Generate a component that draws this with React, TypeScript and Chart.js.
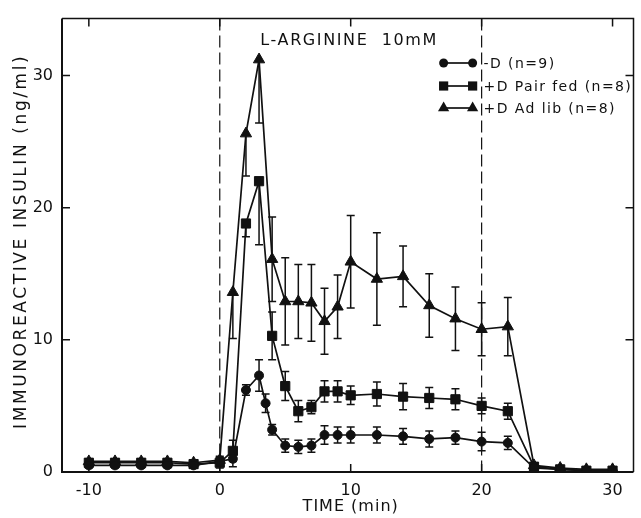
import React, { useEffect, useRef } from "react";
import { Chart, registerables } from "chart.js";

Chart.register(...registerables);

// ---- data ----
const timesMain = [-10, -8, -6, -4, -2, 0, 1, 2, 3, 4, 5, 6, 7, 8, 9, 10, 12, 14, 16, 18, 20, 22, 24, 26, 28, 30];
const timesMinusD = [-10, -8, -6, -4, -2, 0, 1, 2, 3, 3.5, 4, 5, 6, 7, 8, 9, 10, 12, 14, 16, 18, 20, 22, 24, 26, 28, 30];

const minusD = [0.5, 0.5, 0.5, 0.5, 0.5, 0.8, 1.0, 6.2, 7.3, 5.2, 3.2, 2.0, 1.9, 2.0, 2.8, 2.8, 2.8, 2.8, 2.7, 2.5, 2.6, 2.3, 2.2, 0.3, 0.2, 0.1, 0.1];
const minusDSE = [0.2, 0.2, 0.2, 0.2, 0.2, 0.3, 0.6, 0.4, 1.2, 0.7, 0.4, 0.5, 0.5, 0.5, 0.7, 0.6, 0.6, 0.6, 0.6, 0.6, 0.5, 0.7, 0.5, 0.1, 0.1, 0.1, 0.1];
const minusDDownOnly: number[] = [];

const pairFed = [0.7, 0.7, 0.7, 0.7, 0.6, 0.7, 1.6, 18.8, 22.0, 10.3, 6.5, 4.6, 4.9, 6.1, 6.1, 5.8, 5.9, 5.7, 5.6, 5.5, 5.0, 4.6, 0.4, 0.2, 0.1, 0.1];
const pairFedSE = [0.3, 0.3, 0.3, 0.3, 0.3, 0.4, 0.8, 1.0, 4.8, 1.8, 1.1, 0.8, 0.5, 0.8, 0.8, 0.7, 0.9, 1.0, 0.8, 0.8, 0.6, 0.6, 0.1, 0.1, 0.1, 0.1];
const pairFedDownOnly = [2, 3];

const adLib = [0.8, 0.8, 0.8, 0.8, 0.7, 0.9, 13.6, 25.6, 31.2, 16.1, 12.9, 12.9, 12.8, 11.4, 12.5, 15.9, 14.6, 14.8, 12.6, 11.6, 10.8, 11.0, 0.5, 0.3, 0.2, 0.2];
const adLibSE = [0.2, 0.2, 0.2, 0.2, 0.2, 0.3, 3.5, 3.2, 4.8, 3.2, 3.3, 2.8, 2.9, 2.5, 2.4, 3.5, 3.5, 2.3, 2.4, 2.4, 2.0, 2.2, 0.1, 0.1, 0.1, 0.1];
const adLibDownOnly = [1, 2, 3];

const seriesLabels = ["-D (n=9)", "+D Pair fed (n=8)", "+D Ad lib (n=8)"];
const xTicks = [-10, 0, 10, 20, 30];
const yTicks = [0, 10, 20, 30];
const markerLines = [0, 20];
const annotationText = "L-ARGININE  10mM";
const xTitle = "TIME (min)";
const yTitle = "IMMUNOREACTIVE INSULIN (ng/ml)";

const FONT = "'DejaVu Sans', sans-serif";
const INK = "#111";

function makeDataset(label: string, xs: number[], ys: number[], se: number[], downOnly: number[], style: string, radius: number) {
  return {
    label,
    data: xs.map((x, i) => ({ x, y: ys[i] })),
    se,
    downOnly,
    pointStyle: style,
    pointRadius: radius,
    pointBackgroundColor: INK,
    pointBorderColor: INK,
    pointBorderWidth: 1,
    borderColor: INK,
    borderWidth: 1.7,
    backgroundColor: INK,
    tension: 0,
    fill: false,
  } as any;
}

function drawMarker(ctx: CanvasRenderingContext2D, style: string, r: number, x: number, y: number) {
  ctx.beginPath();
  if (style === "circle") {
    ctx.arc(x, y, r, 0, Math.PI * 2);
  } else if (style === "rect") {
    const s = r * Math.SQRT1_2;
    ctx.rect(x - s, y - s, 2 * s, 2 * s);
  } else {
    for (let k = 0; k < 3; k++) {
      const a = (k * 2 * Math.PI) / 3;
      const px = x + Math.sin(a) * r;
      const py = y - Math.cos(a) * r;
      if (k === 0) ctx.moveTo(px, py);
      else ctx.lineTo(px, py);
    }
    ctx.closePath();
  }
  ctx.fill();
}

export default function App() {
  const ref = useRef<HTMLCanvasElement>(null);

  useEffect(() => {
    const canvas = ref.current!;

    const figurePlugin = {
      id: "figure",
      beforeDatasetsDraw(chart: any) {
        const ctx = chart.ctx;
        const xs = chart.scales.x;
        const ys = chart.scales.y;
        const area = chart.chartArea;
        ctx.save();
        ctx.strokeStyle = INK;
        ctx.lineWidth = 1.2;
        ctx.setLineDash([12, 5]);
        markerLines.forEach((v) => {
          const px = xs.getPixelForValue(v);
          ctx.beginPath();
          ctx.moveTo(px, area.top);
          ctx.lineTo(px, area.bottom);
          ctx.stroke();
        });
        ctx.setLineDash([]);
        ctx.lineWidth = 1.5;
        chart.data.datasets.forEach((ds: any) => {
          ds.data.forEach((p: any, i: number) => {
            const e = ds.se[i];
            if (!e) return;
            const down = ds.downOnly.includes(p.x);
            const px = xs.getPixelForValue(p.x);
            const top = down ? ys.getPixelForValue(p.y) : ys.getPixelForValue(p.y + e);
            const bot = ys.getPixelForValue(Math.max(0, p.y - e));
            ctx.beginPath();
            ctx.moveTo(px, top);
            ctx.lineTo(px, bot);
            if (!down) {
              ctx.moveTo(px - 4, top);
              ctx.lineTo(px + 4, top);
            }
            ctx.moveTo(px - 4, bot);
            ctx.lineTo(px + 4, bot);
            ctx.stroke();
          });
        });
        ctx.restore();
      },
      afterDraw(chart: any) {
        const ctx = chart.ctx;
        const xs = chart.scales.x;
        const ys = chart.scales.y;
        const area = chart.chartArea;
        ctx.save();
        ctx.strokeStyle = INK;
        ctx.fillStyle = INK;
        ctx.lineWidth = 1.5;
        ctx.beginPath();
        ctx.moveTo(area.left, area.top);
        ctx.lineTo(area.right, area.top);
        ctx.lineTo(area.right, area.bottom);
        ctx.stroke();
        ctx.lineWidth = 2;
        ctx.beginPath();
        ctx.moveTo(area.left, area.top);
        ctx.lineTo(area.left, area.bottom);
        ctx.lineTo(area.right, area.bottom);
        ctx.stroke();
        ctx.lineWidth = 1.5;
        yTicks.forEach((v) => {
          if (v === 0) return;
          const py = ys.getPixelForValue(v);
          ctx.beginPath();
          ctx.moveTo(area.left, py);
          ctx.lineTo(area.left + 8, py);
          ctx.moveTo(area.right, py);
          ctx.lineTo(area.right - 8, py);
          ctx.stroke();
        });
        xTicks.forEach((v) => {
          const px = xs.getPixelForValue(v);
          ctx.beginPath();
          ctx.moveTo(px, area.top);
          ctx.lineTo(px, area.top + 8);
          ctx.moveTo(px, area.bottom);
          ctx.lineTo(px, area.bottom - 8);
          ctx.stroke();
        });

        ctx.font = `16px ${FONT}`;
        (ctx as any).letterSpacing = "1.6px";
        ctx.textAlign = "left";
        ctx.textBaseline = "middle";
        ctx.fillText(annotationText, xs.getPixelForValue(3.1), ys.getPixelForValue(32.6));

        const x20 = xs.getPixelForValue(20);
        const rowsY = [63, 86, 108];
        ctx.font = `14px ${FONT}`;
        (ctx as any).letterSpacing = "1.4px";
        chart.data.datasets.forEach((ds: any, i: number) => {
          const y = rowsY[i];
          const x1 = x20 - 38;
          const x2 = x20 - 9;
          ctx.lineWidth = 1.7;
          ctx.beginPath();
          ctx.moveTo(x1, y);
          ctx.lineTo(x2, y);
          ctx.stroke();
          drawMarker(ctx, ds.pointStyle, ds.pointRadius, x1, y);
          drawMarker(ctx, ds.pointStyle, ds.pointRadius, x2, y);
          ctx.fillText(ds.label, x20 + 2, y + 1);
        });

        ctx.font = `16px ${FONT}`;
        (ctx as any).letterSpacing = "1px";
        ctx.textAlign = "center";
        ctx.fillText(xTitle, xs.getPixelForValue(10), 507);
        ctx.font = `17px ${FONT}`;
        (ctx as any).letterSpacing = "2.6px";
        ctx.translate(22, (area.top + area.bottom) / 2 - 4);
        ctx.rotate(-Math.PI / 2);
        ctx.fillText(yTitle, 0, 0);
        ctx.restore();
      },
    };

    const chart = new Chart(canvas, {
      type: "line",
      data: {
        datasets: [
          makeDataset(seriesLabels[0], timesMinusD, minusD, minusDSE, minusDDownOnly, "circle", 4.5),
          makeDataset(seriesLabels[1], timesMain, pairFed, pairFedSE, pairFedDownOnly, "rect", 6.5),
          makeDataset(seriesLabels[2], timesMain, adLib, adLibSE, adLibDownOnly, "triangle", 6.5),
        ],
      },
      options: {
        animation: false,
        responsive: false,
        maintainAspectRatio: false,
        layout: { padding: { top: 12, right: 3, left: 0, bottom: 0 } },
        plugins: { legend: { display: false }, tooltip: { enabled: false } },
        scales: {
          x: {
            type: "linear",
            min: -12.05,
            max: 31.6,
            afterBuildTicks: (s: any) => {
              s.ticks = xTicks.map((v) => ({ value: v }));
            },
            afterFit: (s: any) => {
              s.height = 46;
            },
            grid: { display: false, drawTicks: false },
            border: { display: false },
            ticks: { padding: 9, color: INK, font: { family: FONT, size: 16 }, maxRotation: 0, autoSkip: false },
          },
          y: {
            type: "linear",
            min: 0,
            max: 34.3,
            afterBuildTicks: (s: any) => {
              s.ticks = yTicks.map((v) => ({ value: v }));
            },
            afterFit: (s: any) => {
              s.width = 62;
            },
            grid: { display: false, drawTicks: false },
            border: { display: false },
            ticks: { padding: 9, color: INK, font: { family: FONT, size: 16 } },
          },
        },
      } as any,
      plugins: [figurePlugin],
    });
    return () => chart.destroy();
  }, []);

  return (
    <div style={{ position: "fixed", left: 0, top: 0, width: 641, height: 518, background: "#fff" }}>
      <canvas ref={ref} width={641} height={518} style={{ width: 641, height: 518, display: "block" }} />
    </div>
  );
}
